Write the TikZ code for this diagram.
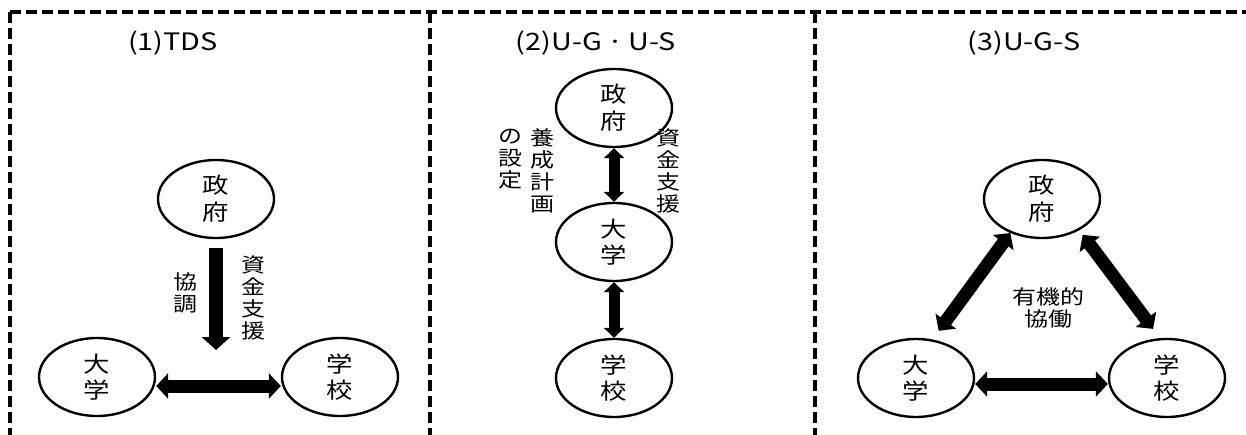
\documentclass[tikz,border=0pt]{standalone}
\usepackage{fontspec}
\setmainfont{Noto Sans CJK JP}[FakeStretch=1.2]
\usetikzlibrary{arrows.meta,shapes.geometric}
\begin{document}
\begin{tikzpicture}[x=0.75pt,y=-0.75pt,
  frame/.style={line width=2.6pt, dash pattern=on 8pt off 4pt},
  ell/.style={ellipse, draw, line width=1.8pt, inner sep=0pt,
    minimum width=87pt, minimum height=58.5pt, align=center,
    font=\fontsize{16.5}{20}\selectfont},
  ttl/.style={anchor=base, inner sep=0pt, font=\fontsize{18}{20}\selectfont},
  lbl/.style={inner sep=0pt, align=center, font=\fontsize{15}{16.5}\selectfont},
  downarr/.style={line width=10.5pt, -{Triangle[width=21pt,length=9.75pt]}},
  dbl/.style={line width=9.75pt, {Triangle[width=18.75pt,length=9pt]}-{Triangle[width=18.75pt,length=9pt]}},
  dbltwo/.style={line width=8.25pt, {Triangle[width=15pt,length=7.5pt]}-{Triangle[width=15pt,length=7.5pt]}}
]
\useasboundingbox (0,0) rectangle (1246,435);
% frame
\draw[frame] (10,12) -- (1246,12);
\draw[frame] (10,12) -- (10,435);
\draw[frame] (430,12) -- (430,435);
\draw[frame] (815,12) -- (815,435);

% panel 1
\node[ttl] (t1) at (173,51) {(1)TDS};
\node[ell] (g1) at (216,199) {政\\府};
\node[ell] (u1) at (97,377) {大\\学};
\node[ell] (s1) at (340,377) {学\\校};
\coordinate (d1) at (216,350);
\draw[downarr, shorten <=6.75pt] (g1.south) -- (d1);
\draw[dbl] ([yshift=-6.75pt]u1.east) -- ([yshift=-6.75pt]s1.west);
\node[lbl] (l1a) at (185,293) {協\\調};
\node[lbl] (l1b) at (253.5,297.5) {資\\金\\支\\援};

% panel 2
\node[ttl] (t2) at (596,51) {(2)U-G\hspace{4pt}·\hspace{4pt}U-S};
\node[ell] (g2) at (614,108) {政\\府};
\node[ell] (u2) at (614,242) {大\\学};
\node[ell] (s2) at (614,378) {学\\校};
\draw[dbltwo] (g2.south) -- (u2.north);
\draw[dbltwo] (u2.south) -- (s2.north);
\node[lbl] (l2a) at (668,170.5) {資\\金\\支\\援};
\node[lbl] (l2b) at (542,170.5) {養\\成\\計\\画};
\node[lbl] (l2c) at (510,159) {の\\設\\定};

% panel 3
\node[ttl] (t3) at (1024,51) {(3)U-G-S};
\node[ell] (g3) at (1042,199) {政\\府};
\node[ell] (u3) at (916,378) {大\\学};
\node[ell] (s3) at (1167,378) {学\\校};
\draw[dbl] ([yshift=-4.5pt]u3.east) -- ([yshift=-4.5pt]s3.west);
\draw[dbl, shorten >=8pt] (g3.227) -- (u3.67);
\draw[dbl, shorten <=4.3pt, shorten >=8.6pt] (g3.320) -- (s3.100);
\node[lbl] (l3) at (1048,308) {有機的\\協働};
\end{tikzpicture}
\end{document}
